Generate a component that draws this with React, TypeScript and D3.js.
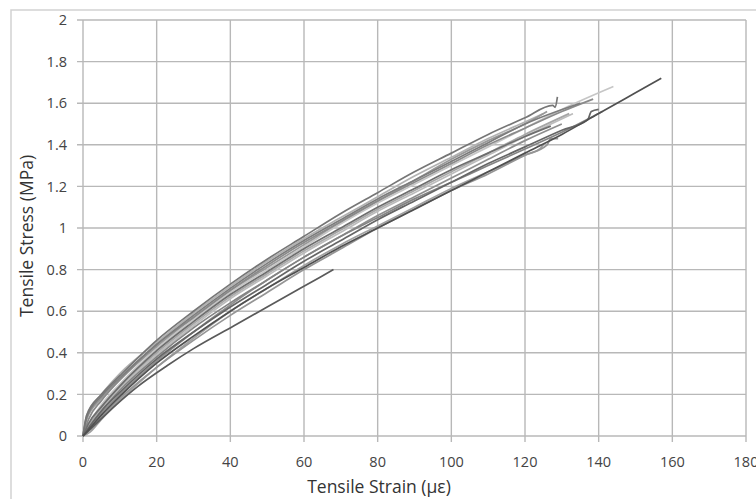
import React from 'react';
import * as d3 from 'd3';

const W = 756;
const H = 499;

const xTicks = [0, 20, 40, 60, 80, 100, 120, 140, 160, 180];
const yTicks = [0, 0.2, 0.4, 0.6, 0.8, 1, 1.2, 1.4, 1.6, 1.8, 2];

// one series per specimen: [strain (µε), stress (MPa)]
const specA = [[0,0],[1,0.1],[5,0.2],[10,0.29],[20,0.46],[30,0.6],[40,0.73],[50,0.85],[60,0.96],[70,1.07],[80,1.17],[90,1.27],[100,1.36],[110,1.45],[120,1.53],[127.5,1.59],[128.2,1.58],[128.8,1.63]];
const specB = [[0,0],[2,0.07],[5,0.15],[10,0.25],[20,0.42],[30,0.56],[40,0.69],[50,0.8],[60,0.91],[70,1.02],[80,1.12],[90,1.21],[100,1.3],[110,1.39],[120,1.48],[130,1.57],[144,1.68]];
const specC = [[0,0],[2,0.04],[5,0.1],[10,0.19],[20,0.35],[30,0.48],[40,0.6],[50,0.71],[60,0.81],[70,0.91],[80,1.0],[90,1.09],[100,1.18],[110,1.27],[120,1.36],[130,1.45],[140,1.55],[150,1.65],[157,1.72]];
const specD = [[0,0],[2,0.05],[5,0.12],[10,0.21],[20,0.37],[30,0.5],[40,0.62],[50,0.73],[60,0.84],[70,0.94],[80,1.04],[90,1.13],[100,1.22],[110,1.31],[120,1.39],[130,1.47],[137,1.52],[138,1.56],[140,1.57]];
const specE = [[0,0],[1.5,0.08],[5,0.17],[10,0.27],[20,0.44],[30,0.57],[40,0.7],[50,0.82],[60,0.93],[70,1.03],[80,1.13],[90,1.22],[100,1.31],[110,1.4],[120,1.48],[130,1.56],[138.5,1.62]];
const specF = [[0,0],[2,0.03],[5,0.09],[10,0.18],[20,0.33],[30,0.46],[40,0.58],[50,0.69],[60,0.8],[70,0.9],[80,1.0],[90,1.09],[100,1.18],[110,1.26],[120,1.35],[126,1.4],[127,1.43],[129,1.43]];
const specG = [[0,0],[1,0.09],[5,0.19],[10,0.28],[20,0.44],[30,0.58],[40,0.71],[50,0.83],[60,0.94],[70,1.04],[80,1.14],[90,1.23],[100,1.32],[110,1.41],[120,1.5],[135,1.6]];
const specH = [[0,0],[2,0.06],[5,0.14],[10,0.24],[20,0.4],[30,0.54],[40,0.67],[50,0.78],[60,0.89],[70,0.99],[80,1.09],[90,1.18],[100,1.27],[110,1.36],[120,1.45],[132,1.55]];
const specI = [[0,0],[1,0.1],[5,0.2],[10,0.3],[20,0.45],[30,0.59],[40,0.72],[50,0.84],[60,0.95],[70,1.05],[80,1.15],[90,1.25],[100,1.34],[110,1.43],[120,1.51],[125,1.55]];
const specJ = [[0,0],[2,0.04],[5,0.11],[10,0.2],[20,0.36],[30,0.5],[40,0.63],[50,0.75],[60,0.86],[70,0.96],[80,1.06],[90,1.15],[100,1.24],[110,1.33],[120,1.42],[130,1.5]];
const specK = [[0,0],[2,0.05],[5,0.12],[10,0.22],[20,0.38],[30,0.52],[40,0.64],[50,0.75],[60,0.86],[70,0.96],[80,1.05],[90,1.14],[100,1.22],[110,1.3],[120,1.38],[130,1.46],[141,1.56]];
const specL = [[0,0],[2,0.02],[5,0.08],[10,0.17],[20,0.33],[30,0.47],[40,0.6],[50,0.71],[60,0.82],[70,0.92],[80,1.01],[90,1.1],[100,1.19],[110,1.27],[120,1.35],[124,1.38],[125,1.4]];
const specM = [[0,0],[1.5,0.06],[5,0.14],[10,0.24],[20,0.41],[30,0.55],[40,0.68],[50,0.79],[60,0.9],[70,1.0],[80,1.1],[90,1.19],[100,1.28],[110,1.36],[120,1.44],[127,1.49]];
const specN = [[0,0],[2,0.05],[5,0.13],[10,0.23],[20,0.39],[30,0.53],[40,0.66],[50,0.77],[60,0.88],[70,0.98],[80,1.08],[90,1.17],[100,1.26],[110,1.35],[120,1.44],[133,1.55]];
const specP = [[0,0],[1,0.08],[5,0.18],[10,0.27],[20,0.43],[30,0.57],[40,0.7],[50,0.81],[60,0.92],[70,1.03],[80,1.13],[90,1.23],[100,1.33],[110,1.42],[120,1.5],[126,1.56]];
const specShort = [[0,0],[3,0.05],[9,0.15],[15,0.24],[23,0.34],[30,0.42],[41,0.53],[50,0.62],[59,0.71],[68,0.8]];

const series = [
  { data: specB, color: '#c6c6c6' },
  { data: specN, color: '#bcbcbc' },
  { data: specI, color: '#b2b2b2' },
  { data: specH, color: '#a6a6a6' },
  { data: specL, color: '#a0a0a0' },
  { data: specP, color: '#999999' },
  { data: specF, color: '#959595' },
  { data: specJ, color: '#8e8e8e' },
  { data: specE, color: '#8a8a8a' },
  { data: specK, color: '#848484' },
  { data: specG, color: '#7c7c7c' },
  { data: specA, color: '#767676' },
  { data: specM, color: '#6e6e6e' },
  { data: specD, color: '#666666' },
  { data: specShort, color: '#5a5a5a' },
  { data: specC, color: '#505050' },
];

const font = '"Open Sans", "DejaVu Sans", sans-serif';

export default function App() {
  const x = d3.scaleLinear().domain([0, 180]).range([83, 746]);
  const y = d3.scaleLinear().domain([0, 2]).range([436, 20]);
  const line = d3.line<number[]>().x(d => x(d[0])).y(d => y(d[1])).curve(d3.curveMonotoneX);

  return (
    <svg width={W} height={H} style={{ position: 'absolute', left: 0, top: 0, background: '#fff' }}>
      <rect x={11} y={10} width={800} height={600} fill="#fff" stroke="#d2d2d2" strokeWidth={1.5} />
      {yTicks.map(t => (
        <g key={'y' + t}>
          <line x1={77} x2={x(180)} y1={y(t)} y2={y(t)} stroke="#b8b8b8" strokeWidth={1.4} />
          <text x={67} y={y(t)} dy="0.36em" textAnchor="end" fontFamily={font} fontSize={14.5} fill="#444">{t}</text>
        </g>
      ))}
      {xTicks.map(t => (
        <g key={'x' + t}>
          <line x1={x(t)} x2={x(t)} y1={y(2)} y2={442} stroke="#b8b8b8" strokeWidth={1.4} />
          <text x={x(t)} y={462} dy="0.36em" textAnchor="middle" fontFamily={font} fontSize={14.5} fill="#444">{t}</text>
        </g>
      ))}
      {series.map((s, i) => (
        <path key={i} d={line(s.data) || ''} fill="none" stroke={s.color} strokeWidth={1.7} />
      ))}
      <text x={379} y={487} dy="0.36em" textAnchor="middle" fontFamily={font} fontSize={17.5} fill="#333">Tensile Strain (με)</text>
      <text transform="translate(27,236) rotate(-90)" dy="0.36em" textAnchor="middle" fontFamily={font} fontSize={17.5} fill="#333">Tensile Stress (MPa)</text>
    </svg>
  );
}
